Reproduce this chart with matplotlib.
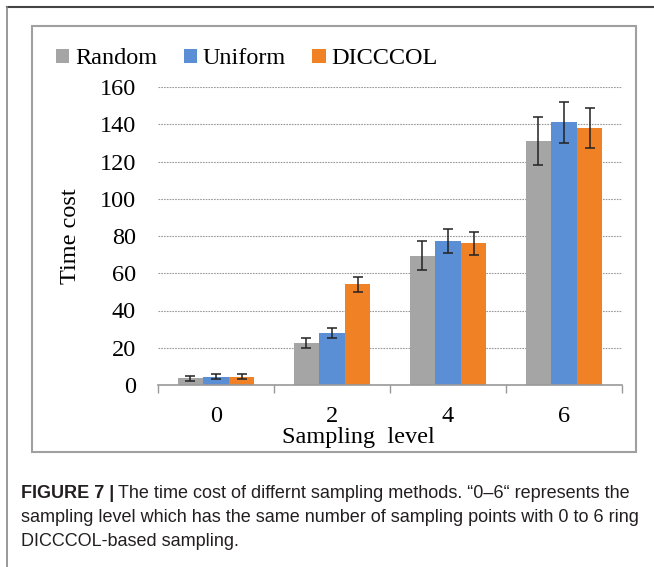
import matplotlib
matplotlib.use("Agg")
import matplotlib.pyplot as plt
import numpy as np
from matplotlib.lines import Line2D
from matplotlib.patches import Patch, Rectangle

levels = ["0", "2", "4", "6"]
methods = ["Random", "Uniform", "DICCCOL"]
random_mean = [3.5, 22.5, 69.5, 131]
random_err = [1.5, 2.5, 8, 13]
uniform_mean = [4.5, 28, 77.5, 141]
uniform_err = [1.5, 2.5, 6.5, 11]
dicccol_mean = [4.5, 54, 76, 138]
dicccol_err = [1.5, 4, 6, 10.5]
colors = ["#A5A5A5", "#5B8FD5", "#F08124"]

W, H = 654, 567
fig = plt.figure(figsize=(W / 100, H / 100), dpi=100)
serif = ["Liberation Serif", "DejaVu Serif"]

# plot area in pixel units of the picture
ax = fig.add_axes([158 / W, 1 - 385 / H, 464 / W, 298 / H])

x = np.arange(len(levels))
width = 0.22
series = [(random_mean, random_err), (uniform_mean, uniform_err), (dicccol_mean, dicccol_err)]
for i, (m, e) in enumerate(series):
    ax.bar(x + (i - 1) * width, m, width, color=colors[i], zorder=2,
           yerr=e, capsize=3.6, error_kw=dict(ecolor="#222222", elinewidth=1.1, capthick=1.1))

ax.set_xlim(-0.5, len(levels) - 0.5)
ax.set_ylim(0, 160)
ax.set_yticks(np.arange(0, 161, 20))
ax.set_yticklabels([str(v) for v in range(0, 161, 20)], family=serif, fontsize=17.5)
ax.tick_params(axis="y", length=0, pad=16)

ax.set_xticks(np.arange(-0.5, len(levels), 1.0))
ax.set_xticklabels([])
ax.tick_params(axis="x", which="major", length=6, width=1, color="#999999", direction="out")
ax.set_xticks(x, minor=True)
ax.set_xticklabels(levels, minor=True, family=serif, fontsize=17.5)
ax.tick_params(axis="x", which="minor", length=0, pad=15)

for s in ["top", "right", "left"]:
    ax.spines[s].set_visible(False)
ax.spines["bottom"].set_color("#999999")
ax.spines["bottom"].set_linewidth(1.2)

ax.set_axisbelow(True)
ax.yaxis.grid(True, linestyle=(0, (1.5, 1)), color="#999999", linewidth=0.8, zorder=0)

ax.set_ylabel("Time cost", family=serif, fontsize=17.5, va="center")
ax.yaxis.set_label_coords(-(158 - 70) / 464, 0.5)
ax.set_xlabel("Sampling  level", family=serif, fontsize=17.5, va="center")
ax.xaxis.set_label_coords((358 - 158) / 464, -(437 - 385) / 298)

handles = [Patch(facecolor=c, edgecolor="none") for c in colors]
fig.legend(handles, methods, loc="center left", bbox_to_anchor=(56 / W, 1 - 59 / H),
           ncol=3, frameon=False, prop={"family": serif, "size": 17.5},
           handlelength=0.55, handleheight=0.55, handletextpad=0.25,
           columnspacing=1.07, borderaxespad=0, borderpad=0)

# inner chart box and outer frame
fig.patches.append(Rectangle((32 / W, 1 - 452 / H), 604 / W, 426 / H, transform=fig.transFigure,
                             fill=False, edgecolor="#A0A0A0", linewidth=1.5))
fig.lines.append(Line2D([7 / W, 1], [1 - 7 / H, 1 - 7 / H], transform=fig.transFigure,
                        color="#444444", linewidth=1.5))
fig.lines.append(Line2D([7 / W, 7 / W], [0, 1 - 7 / H], transform=fig.transFigure,
                        color="#888888", linewidth=1.2))

# caption
sans = ["Liberation Sans", "DejaVu Sans"]
cap_color = "#231F20"
cap_size = 12.95
t = fig.text(21 / W, 1 - 493 / H, "FIGURE 7 |", family=sans, fontsize=cap_size,
             weight="bold", color=cap_color, va="center")
r = fig.canvas.get_renderer()
bb = t.get_window_extent(renderer=r)
fig.text(bb.x1 / W + 4 / W, 1 - 493 / H,
         "The time cost of differnt sampling methods. \u201c0\u20136\u201c represents the",
         family=sans, fontsize=cap_size, color=cap_color, va="center")
fig.text(21 / W, 1 - 517 / H,
         "sampling level which has the same number of sampling points with 0 to 6 ring",
         family=sans, fontsize=cap_size, color=cap_color, va="center")
fig.text(21 / W, 1 - 541 / H, "DICCCOL-based sampling.",
         family=sans, fontsize=cap_size, color=cap_color, va="center")

fig.savefig("out.png", dpi=100)
